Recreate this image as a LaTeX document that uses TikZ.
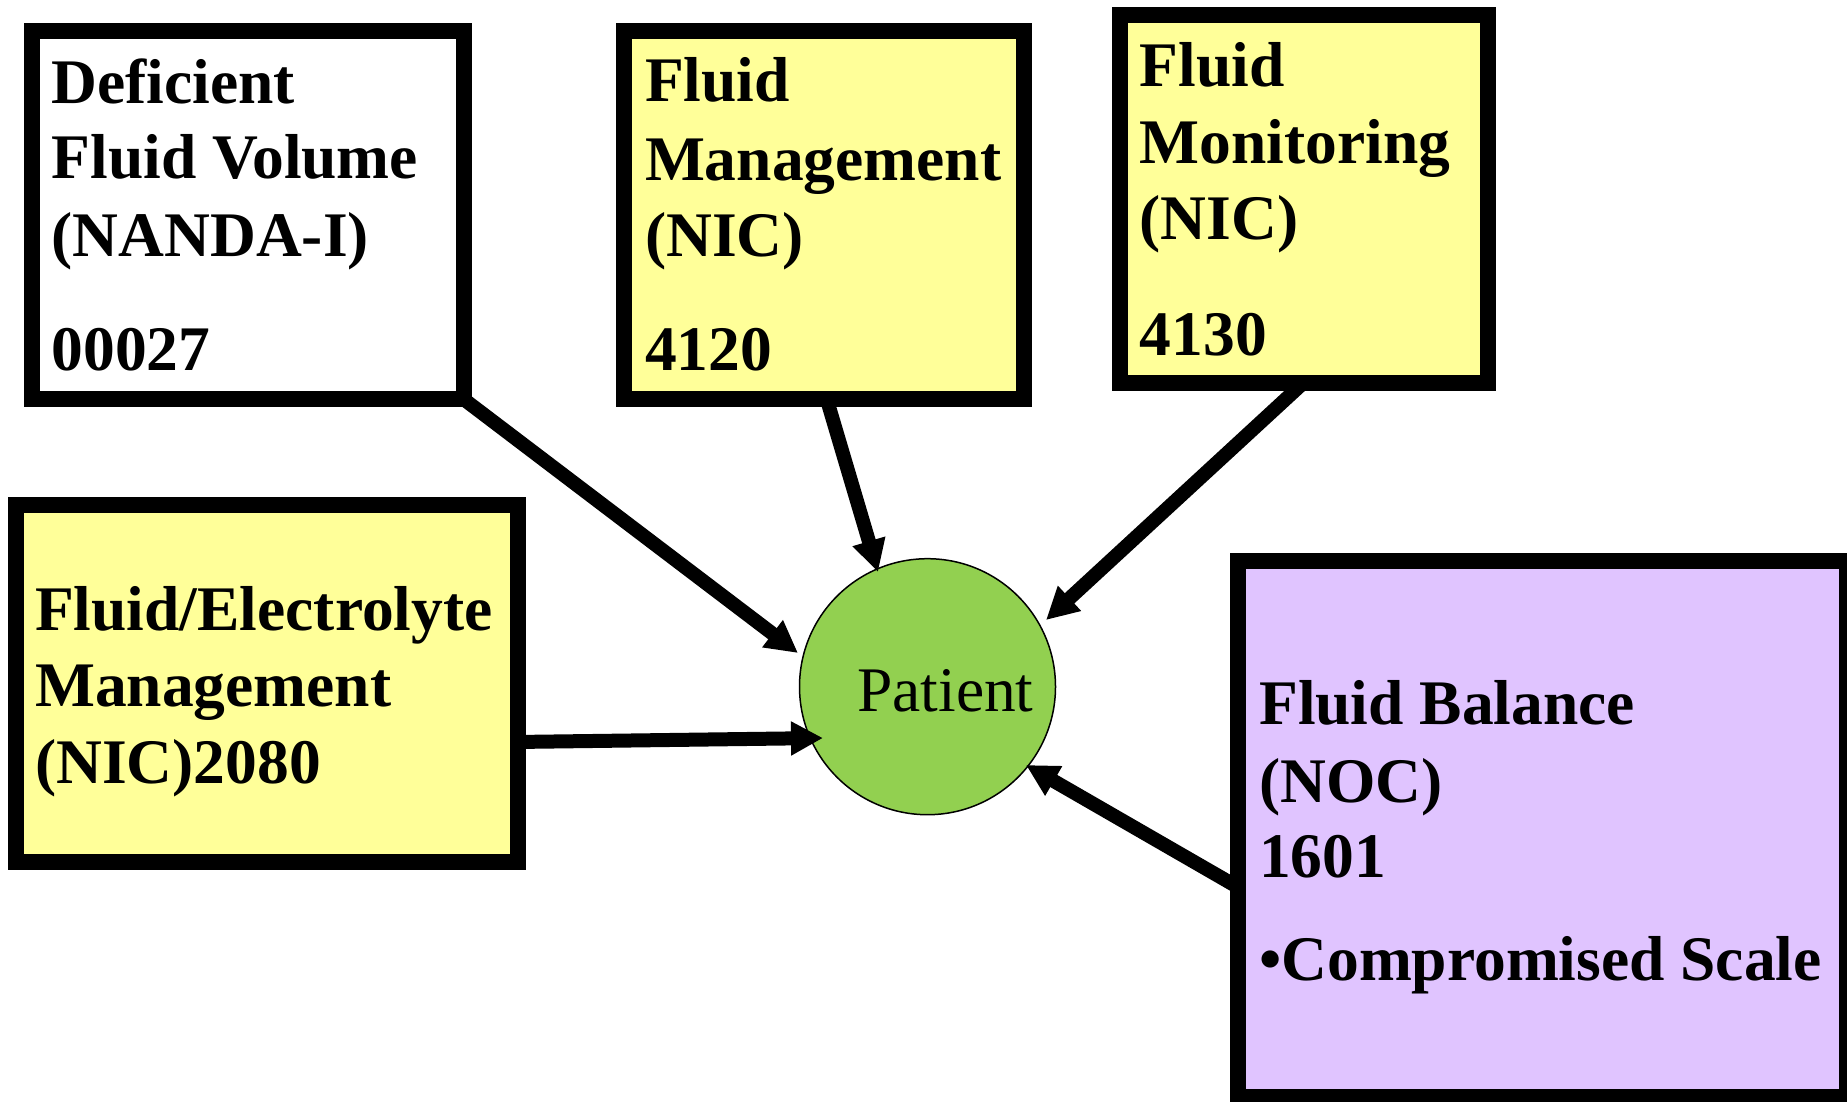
\documentclass[tikz,border=0pt]{standalone}
\usepackage{fontspec}
\setmainfont{Liberation Serif}
\usetikzlibrary{arrows.meta,calc}

\definecolor{boxyellow}{RGB}{255,255,153}
\definecolor{boxlilac}{RGB}{224,196,255}
\definecolor{patgreen}{RGB}{146,208,80}

\tikzset{
  card/.style={draw=black, line width=16pt, rectangle, inner sep=0pt, outer sep=0pt},
  cardtext/.style={anchor=base west, inner sep=0pt,
    font=\fontsize{63.5}{76}\selectfont\bfseries},
  link/.style={line width=14pt, -{Triangle[length=32pt,width=32pt]}},
}

\begin{document}
\begin{tikzpicture}[x=1pt,y=-1pt]
\useasboundingbox (0,0) rectangle (1847,1101);

% central patient node
\node[circle, draw=black, line width=1.5pt, fill=patgreen, minimum size=256pt,
  inner sep=0pt, outer sep=0pt] (pat) at (927.5,686.7) {};
\node[anchor=base west, inner sep=0pt, font=\fontsize{63.5}{75}\selectfont] (patlbl) at (857,711) {Patient};

% arrow tips on the patient circle
\coordinate (e1) at ($(pat.center)+(-129.5,-33.7)$);
\coordinate (e2) at ($(pat.center)+(-49.5,-114.7)$);
\coordinate (e3) at ($(pat.center)+(118.5,-66.7)$);
\coordinate (e4) at ($(pat.center)+(-104.5,51.3)$);
\coordinate (e5) at ($(pat.center)+(98.5,78.3)$);

% box frames (path centred in the thick border)
\node[card, draw=none, minimum width=431.5pt, minimum height=368pt] (b1) at (247.75,215) {};
\node[card, draw=none, minimum width=400.5pt, minimum height=367.7pt] (b2) at (823.75,215.2) {};
\node[card, draw=none, minimum width=368pt, minimum height=368pt] (b3) at (1303.5,198.7) {};
\node[card, draw=none, minimum width=501.9pt, minimum height=357.3pt] (b4) at (267.35,683.35) {};
\node[card, draw=none, minimum width=609pt, minimum height=535.7pt] (b5) at (1542.5,829.2) {};

% connectors, drawn first so the box borders cover their tails
\draw[link] (b1.south east) -- (e1);
\draw[link] ($(b2.south)+(3,0)$) -- (e2);
\draw[link] (b3.south) -- (e3);
\draw[link] ($(b4.east)+(0,58.6)$) -- (e4);
\draw[link] ($(b5.west)+(0,58)$) -- (e5);

% visible boxes
\draw[line width=16pt, fill=white] (b1.north west) rectangle (b1.south east);
\draw[line width=16pt, fill=boxyellow] (b2.north west) rectangle (b2.south east);
\draw[line width=16pt, fill=boxyellow] (b3.north west) rectangle (b3.south east);
\draw[line width=16pt, fill=boxyellow] (b4.north west) rectangle (b4.south east);
\draw[line width=16pt, fill=boxlilac] (b5.north west) rectangle (b5.south east);

% box texts
\node[cardtext] (t1a) at (51.4,103.3) {Deficient};
\node[cardtext] (t1b) at (51.4,178.3) {Fluid Volume};
\node[cardtext] (t1c) at (51.4,256.7) {(NANDA-I)};
\node[cardtext] (t1d) at (51.4,370) {00027};

\node[cardtext] (t2a) at (644.8,101.7) {Fluid};
\node[cardtext] (t2b) at (644.8,180) {Management};
\node[cardtext] (t2c) at (644.8,256.7) {(NIC)};
\node[cardtext] (t2d) at (644.8,370.7) {4120};

\node[cardtext] (t3a) at (1139.6,86) {Fluid};
\node[cardtext] (t3b) at (1139.6,163.3) {Monitoring};
\node[cardtext] (t3c) at (1139.6,239.3) {(NIC)};
\node[cardtext] (t3d) at (1139.6,355) {4130};

\node[cardtext] (t4a) at (35,630) {Fluid/Electrolyte};
\node[cardtext] (t4b) at (35,706.7) {Management};
\node[cardtext] (t4c) at (35,783.3) {(NIC)2080};

\node[cardtext] (t5a) at (1259,724) {Fluid Balance};
\node[cardtext] (t5b) at (1259,802) {(NOC)};
\node[cardtext] (t5c) at (1259,877) {1601};
\node[cardtext] (t5d) at (1259,980) {•Compromised Scale};
\end{tikzpicture}
\end{document}
